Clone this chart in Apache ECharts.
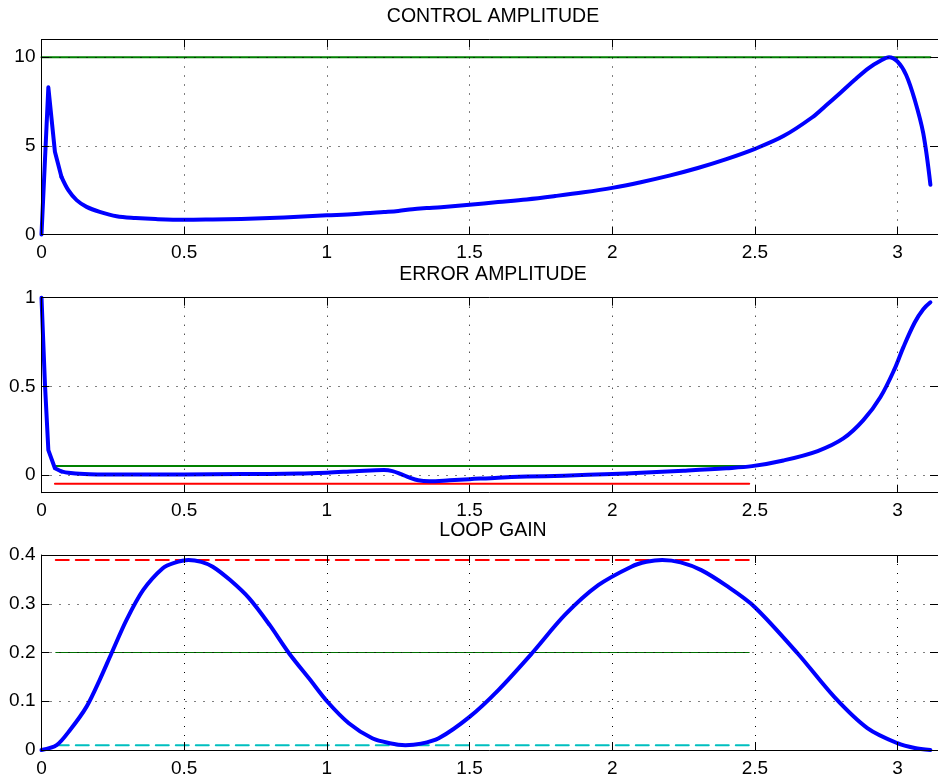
<!DOCTYPE html>
<html>
<head>
<meta charset="utf-8">
<script src="https://cdn.jsdelivr.net/npm/echarts@6/dist/echarts.min.js"></script>
<style>
  html, body { margin: 0; padding: 0; background: #fff; }
  #chart { width: 938px; height: 782px; }
</style>
</head>
<body>
<div id="chart"></div>
<script>
(function() {

    // control amplitude
    const ctrlX = [0, 0.024, 0.047, 0.07, 0.094, 0.123, 0.158, 0.204, 0.263, 0.33, 0.4, 0.5, 0.6, 0.7, 0.8, 0.9, 1.0,
        1.1, 1.2, 1.25, 1.3, 1.35, 1.4, 1.5, 1.6, 1.7, 1.8, 1.9, 2.0, 2.1, 2.2, 2.3, 2.4, 2.5, 2.6, 2.7, 2.75, 2.8,
        2.85, 2.9, 2.94, 2.97, 3.0, 3.03, 3.06, 3.09, 3.115];
    const ctrlY = [0, 8.3, 4.67, 3.25, 2.5, 1.94, 1.56, 1.28, 1.03, 0.93, 0.87, 0.83, 0.85, 0.88, 0.93, 1.0, 1.08,
        1.16, 1.27, 1.33, 1.43, 1.49, 1.54, 1.68, 1.83, 1.98, 2.17, 2.38, 2.63, 2.95, 3.32, 3.75, 4.25, 4.83, 5.55,
        6.6, 7.29, 8.0, 8.73, 9.4, 9.8, 10.0, 9.75, 9.0, 7.6, 5.7, 2.8];
    const ctrlLimit = 10;
    const ctrlLimitX = [0, 3.115];

    // error amplitude
    const errX = [0, 0.012, 0.024, 0.047, 0.07, 0.094, 0.15, 0.2, 0.3, 0.5, 0.7, 0.9, 1.0, 1.1, 1.2, 1.23, 1.26,
        1.29, 1.32, 1.36, 1.43, 1.5, 1.6, 1.7, 1.83, 2.0, 2.1, 2.25, 2.4, 2.49, 2.6, 2.72, 2.81, 2.88, 2.94, 2.99,
        3.02, 3.06, 3.09, 3.115];
    const errY = [1.0, 0.515, 0.14, 0.038, 0.02, 0.012, 0.005, 0.003, 0.002, 0.003, 0.005, 0.008, 0.013, 0.021,
        0.028, 0.022, 0.005, -0.015, -0.03, -0.035, -0.03, -0.024, -0.015, -0.009, -0.004, 0.006, 0.012, 0.024,
        0.038, 0.05, 0.082, 0.135, 0.206, 0.309, 0.44, 0.6, 0.72, 0.86, 0.935, 0.974];
    const errUpper = 0.05;
    const errLower = -0.05;
    const errLimitX = [0.047, 2.48];

    // loop gain
    const gainX = [0, 0.053, 0.1, 0.158, 0.204, 0.245, 0.298, 0.356, 0.425, 0.465, 0.515, 0.56, 0.6, 0.66, 0.728,
        0.8, 0.868, 0.94, 1.002, 1.077, 1.159, 1.22, 1.275, 1.33, 1.392, 1.5, 1.601, 1.718, 1.834, 1.951, 2.067,
        2.12, 2.175, 2.24, 2.312, 2.4, 2.498, 2.65, 2.778, 2.894, 2.999, 3.06, 3.115];
    const gainY = [0, 0.01, 0.041, 0.089, 0.144, 0.198, 0.267, 0.328, 0.373, 0.384, 0.39, 0.386, 0.376, 0.349,
        0.311, 0.256, 0.198, 0.145, 0.099, 0.055, 0.024, 0.014, 0.01, 0.013, 0.024, 0.068, 0.123, 0.198, 0.277,
        0.338, 0.376, 0.386, 0.39, 0.385, 0.369, 0.337, 0.294, 0.198, 0.109, 0.045, 0.014, 0.004, 0];
    const gainMax = 0.39;
    const gainMid = 0.2;
    const gainMin = 0.01;
    const gainLimitX = [0.05, 2.48];

    const titles = ['CONTROL AMPLITUDE', 'ERROR AMPLITUDE', 'LOOP GAIN'];
    const xTicks = [0, 0.5, 1, 1.5, 2, 2.5, 3];

    const chart = echarts.init(document.getElementById('chart'));

    const font = 'Liberation Sans, Arial, sans-serif';
    const gridTops = [39.5, 297.7, 555];
    const gridH = 195;
    const yRanges = [[0, 11, [0, 5, 10]], [-0.1, 1, [0, 0.5, 1]], [0, 0.4, [0, 0.1, 0.2, 0.3, 0.4]]];
    const titleY = [17, 275, 531];

    function pairs(xs, ys) {
        return xs.map((x, i) => [x, ys[i]]);
    }
    function flat(xs, v) {
        return xs.map((x) => [x, v]);
    }
    function fmt(v) {
        return String(Math.round(v * 1000) / 1000);
    }

    const dotted = { color: '#000', width: 1, type: [1, 8] };
    const frame = { onZero: false, lineStyle: { color: '#000', width: 1 } };
    const tick = { show: true, inside: true, length: 8, lineStyle: { color: '#000', width: 1 } };

    let grids = [], xAxes = [], yAxes = [], series = [], graphic = [];

    gridTops.forEach((top, i) => {
        grids.push({ left: 41.5, top: top, width: 900, height: gridH });

        const r = yRanges[i];
        // bottom and top x axes
        xAxes.push({
            gridIndex: i, type: 'value', min: 0, max: Math.PI, position: 'bottom', z: 5,
            axisLine: frame,
            axisTick: Object.assign({ customValues: xTicks }, tick),
            axisLabel: { color: '#000', fontSize: 19, fontFamily: font, margin: 9, customValues: xTicks, formatter: fmt },
            splitLine: { show: true, lineStyle: dotted }
        });
        xAxes.push({
            gridIndex: i, type: 'value', min: 0, max: Math.PI, position: 'top', z: 5,
            axisLine: frame,
            axisTick: Object.assign({ customValues: xTicks }, tick),
            axisLabel: { show: false },
            splitLine: { show: false }
        });
        // left and right y axes
        yAxes.push({
            gridIndex: i, type: 'value', min: r[0], max: r[1], position: 'left', z: 5,
            axisLine: Object.assign({ show: true }, frame),
            axisTick: Object.assign({ customValues: r[2] }, tick),
            axisLabel: { color: '#000', fontSize: 19, fontFamily: font, margin: 6, customValues: r[2], formatter: fmt },
            splitLine: { show: true, lineStyle: dotted }
        });
        yAxes.push({
            gridIndex: i, type: 'value', min: r[0], max: r[1], position: 'right', z: 5,
            axisLine: Object.assign({ show: true }, frame),
            axisTick: Object.assign({ customValues: r[2] }, tick),
            axisLabel: { show: false },
            splitLine: { show: false }
        });

        graphic.push({
            type: 'text',
            style: { text: titles[i], x: 493, y: titleY[i], fill: '#000', font: '19.5px ' + font,
                textAlign: 'center', textVerticalAlign: 'middle' }
        });
    });

    function line(gi, data, color, width, type, smooth) {
        return {
            type: 'line', xAxisIndex: gi * 2, yAxisIndex: gi * 2, data: data, symbol: 'none',
            clip: false, silent: true, animation: false, smooth: smooth || false,
            lineStyle: { color: color, width: width, type: type || 'solid', join: 'round', cap: 'round' }
        };
    }

    const ctrl = pairs(ctrlX, ctrlY);
    const err = pairs(errX, errY);

    series.push(line(0, flat(ctrlLimitX, ctrlLimit), '#008000', 2));
    // sharp start (few samples), smooth afterwards
    series.push(line(0, ctrl.slice(0, 4), '#0000ff', 4));
    series.push(line(0, ctrl.slice(3), '#0000ff', 4, null, 0.35));

    series.push(line(1, flat(errLimitX, errUpper), '#008000', 2));
    series.push(line(1, flat(errLimitX, errLower), '#ff0000', 2));
    series.push(line(1, err.slice(0, 5), '#0000ff', 4));
    series.push(line(1, err.slice(4), '#0000ff', 4, null, 0.35));

    series.push(line(2, flat(gainLimitX, gainMax), '#ff0000', 2, [13, 7]));
    series.push(line(2, flat(gainLimitX, gainMin), '#00bfbf', 2, [13, 7]));
    series.push(line(2, flat(gainLimitX, gainMid), '#007000', 1));
    series.push(line(2, pairs(gainX, gainY), '#0000ff', 4, null, 0.3));

    chart.setOption({
        animation: false,
        backgroundColor: '#fff',
        grid: grids,
        xAxis: xAxes,
        yAxis: yAxes,
        series: series,
        graphic: graphic
    });
})();
</script>
</body>
</html>
